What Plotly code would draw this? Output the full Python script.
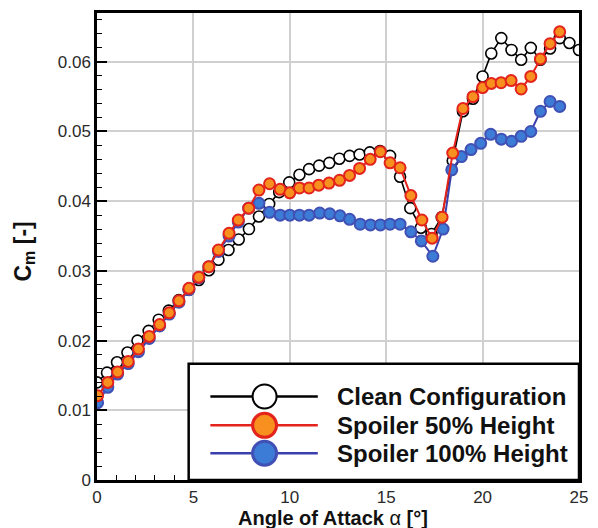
import plotly.graph_objects as go

# ---------------- data ----------------
alpha_clean = [0.0, 0.52, 1.04, 1.58, 2.1, 2.68, 3.2, 3.72, 4.24, 4.76, 5.28, 5.8, 6.3, 6.82,
               7.35, 7.88, 8.4, 8.93, 9.45, 9.97, 10.5, 11.0, 11.52, 12.05, 12.57, 13.1, 13.62,
               14.15, 14.68, 15.2, 15.72, 16.25, 16.8, 17.35, 17.88, 18.45, 18.98, 19.5, 20.0,
               20.45, 20.97, 21.5, 22.0, 22.5, 23.0, 23.5, 24.0, 24.5, 25.0]
cm_clean = [0.014, 0.0154, 0.0169, 0.0183, 0.0200, 0.0214, 0.0230, 0.0243, 0.0258, 0.0273,
            0.0287, 0.0301, 0.0316, 0.0330, 0.0345, 0.0360, 0.0378, 0.0396, 0.0413, 0.0427,
            0.0438, 0.0446, 0.0451, 0.0455, 0.0461, 0.0465, 0.0467, 0.0470, 0.0472, 0.0465,
            0.0435, 0.0390, 0.0362, 0.0353, 0.0377, 0.0458, 0.0529, 0.0547, 0.0579, 0.0612,
            0.0634, 0.0617, 0.0603, 0.0620, 0.0603, 0.0619, 0.0634, 0.0627, 0.0617]

alpha_sp50 = [0.03, 0.56, 1.07, 1.62, 2.15, 2.71, 3.25, 3.75, 4.25, 4.77, 5.28, 5.8, 6.3, 6.85,
              7.33, 7.87, 8.4, 8.95, 9.5, 10.0, 10.5, 11.0, 11.5, 12.03, 12.58, 13.1, 13.62,
              14.17, 14.7, 15.2, 15.72, 16.28, 16.85, 17.38, 17.9, 18.45, 18.98, 19.5, 20.0,
              20.45, 20.96, 21.48, 22.0, 22.5, 23.0, 23.5, 24.0]
cm_sp50 = [0.0121, 0.0140, 0.0155, 0.0170, 0.0188, 0.0206, 0.0223, 0.0240, 0.0257, 0.0275,
           0.0291, 0.0306, 0.0330, 0.0354, 0.0373, 0.0390, 0.0416, 0.0425, 0.0417, 0.0412,
           0.0419, 0.0419, 0.0423, 0.0426, 0.0430, 0.0437, 0.0447, 0.0460, 0.0471, 0.0455,
           0.0448, 0.0408, 0.0373, 0.0347, 0.0377, 0.0469, 0.0533, 0.0550, 0.0563, 0.0569,
           0.0570, 0.0573, 0.0561, 0.0579, 0.0604, 0.0626, 0.0643]

alpha_sp100 = [0.03, 0.56, 1.07, 1.62, 2.15, 2.71, 3.25, 3.75, 4.25, 4.77, 5.28, 5.8, 6.3, 6.85,
               7.33, 7.87, 8.4, 8.95, 9.5, 10.0, 10.5, 11.0, 11.55, 12.07, 12.6, 13.1, 13.65,
               14.18, 14.7, 15.2, 15.72, 16.28, 16.82, 17.42, 17.95, 18.4, 18.9, 19.4, 19.9,
               20.42, 20.97, 21.5, 22.0, 22.5, 23.0, 23.5, 24.0]
cm_sp100 = [0.0111, 0.0133, 0.0152, 0.0167, 0.0184, 0.0203, 0.0221, 0.0238, 0.0255, 0.0273,
            0.0290, 0.0306, 0.0328, 0.0350, 0.0370, 0.0390, 0.0397, 0.0384, 0.0380, 0.0380,
            0.0380, 0.0380, 0.0383, 0.0382, 0.0379, 0.0374, 0.0367, 0.0366, 0.0366, 0.0367,
            0.0367, 0.0356, 0.0343, 0.0321, 0.0360, 0.0445, 0.0464, 0.0474, 0.0483, 0.0496,
            0.0489, 0.0486, 0.0493, 0.0500, 0.0529, 0.0543, 0.0536]

series_names = ["Clean Configuration", "Spoiler 50% Height", "Spoiler 100% Height"]
x_ticks = [0, 5, 10, 15, 20, 25]
x_tick_text = ["0", "5", "10", "15", "20", "25"]
y_ticks = [0, 0.01, 0.02, 0.03, 0.04, 0.05, 0.06]
y_tick_text = ["0", "0.01", "0.02", "0.03", "0.04", "0.05", "0.06"]

# ---------------- styles ----------------
FONT = "Liberation Sans, Arial, sans-serif"
BLACK = "#000000"
RED_LINE = "#e3231c"
ORANGE = "#f7901e"
BLUE_FILL = "#3d7cd6"
BLUE_EDGE = "#4150b4"
BLUE_LINE = "#3b3fae"

fig = go.Figure()
fig.add_trace(go.Scatter(x=alpha_clean, y=cm_clean, mode="lines+markers", name=series_names[0],
                         line=dict(color=BLACK, width=1.6),
                         marker=dict(size=11, color="white", line=dict(color=BLACK, width=1.6))))
fig.add_trace(go.Scatter(x=alpha_sp100, y=cm_sp100, mode="lines+markers", name=series_names[2],
                         line=dict(color=BLUE_LINE, width=2),
                         marker=dict(size=11, color=BLUE_FILL, line=dict(color=BLUE_EDGE, width=2))))
fig.add_trace(go.Scatter(x=alpha_sp50, y=cm_sp50, mode="lines+markers", name=series_names[1],
                         line=dict(color=RED_LINE, width=2),
                         marker=dict(size=11, color=ORANGE, line=dict(color=RED_LINE, width=2))))

axis_common = dict(showline=True, linecolor=BLACK, linewidth=2.5, mirror=True,
                   showgrid=True, gridcolor="#d0d0d0", gridwidth=1.5, zeroline=False,
                   ticks="inside", ticklen=10, tickwidth=2, tickcolor=BLACK,
                   tickfont=dict(family=FONT, size=17, color="#2a2a2a"))

fig.update_xaxes(range=[0, 25], tickvals=x_ticks, ticktext=x_tick_text,
                 minor=dict(ticks="inside", ticklen=5, tickwidth=1.2, tickcolor=BLACK, dtick=1, showgrid=False),
                 **axis_common)
fig.update_yaxes(range=[0, 0.067], tickvals=y_ticks, ticktext=y_tick_text,
                 minor=dict(ticks="inside", ticklen=5, tickwidth=1.2, tickcolor=BLACK, dtick=0.002, tick0=0, showgrid=False),
                 **axis_common)

# ---------------- legend drawn in the lower right ----------------
pw, ph = 489.0, 470.0
box_x0 = 93 / pw
box_y1 = 117 / ph
rows_y = [84 / ph, 55 / ph, 27 / ph]
line_x0, line_x1, mark_x, text_x = 115 / pw, 224 / pw, 170 / pw, 241 / pw

shapes = [dict(type="rect", xref="paper", yref="paper", x0=box_x0, x1=1.0, y0=0.0, y1=box_y1,
               fillcolor="white", line=dict(color=BLACK, width=2.5), layer="above")]
styles = [(BLACK, "white", BLACK, 2.0), (RED_LINE, ORANGE, RED_LINE, 3.0), (BLUE_LINE, BLUE_FILL, BLUE_EDGE, 3.0)]
annotations = []
for name, yy, (lc, fc, ec, ew) in zip(series_names, rows_y, styles):
    shapes.append(dict(type="line", xref="paper", yref="paper", x0=line_x0, x1=line_x1, y0=yy, y1=yy,
                       line=dict(color=lc, width=2.5), layer="above"))
    shapes.append(dict(type="circle", xref="paper", yref="paper", xsizemode="pixel", ysizemode="pixel",
                       xanchor=mark_x, yanchor=yy, x0=-12, x1=12, y0=-12, y1=12,
                       fillcolor=fc, line=dict(color=ec, width=ew), layer="above"))
    annotations.append(dict(xref="paper", yref="paper", x=text_x, y=yy, text="<b>%s</b>" % name,
                            showarrow=False, xanchor="left", yanchor="middle",
                            font=dict(family=FONT, size=24, color="#111111")))

# axis titles
annotations.append(dict(xref="paper", yref="paper", x=(336 - 97) / pw, y=-(38 / ph),
                        text="<b>Angle of Attack </b>α<b> [°]</b>", showarrow=False,
                        xanchor="center", yanchor="middle",
                        font=dict(family=FONT, size=20, color="#111111")))
annotations.append(dict(xref="paper", yref="paper", x=-(74 / pw), y=(480 - 250) / ph,
                        text="<b>C<sub>m</sub> [-]</b>", showarrow=False, textangle=-90,
                        xanchor="center", yanchor="middle",
                        font=dict(family=FONT, size=23, color="#111111")))

fig.update_layout(width=598, height=528, margin=dict(l=97, r=12, t=10, b=48),
                  plot_bgcolor="white", paper_bgcolor="white", showlegend=False,
                  shapes=shapes, annotations=annotations)

fig.write_html("out.html")
